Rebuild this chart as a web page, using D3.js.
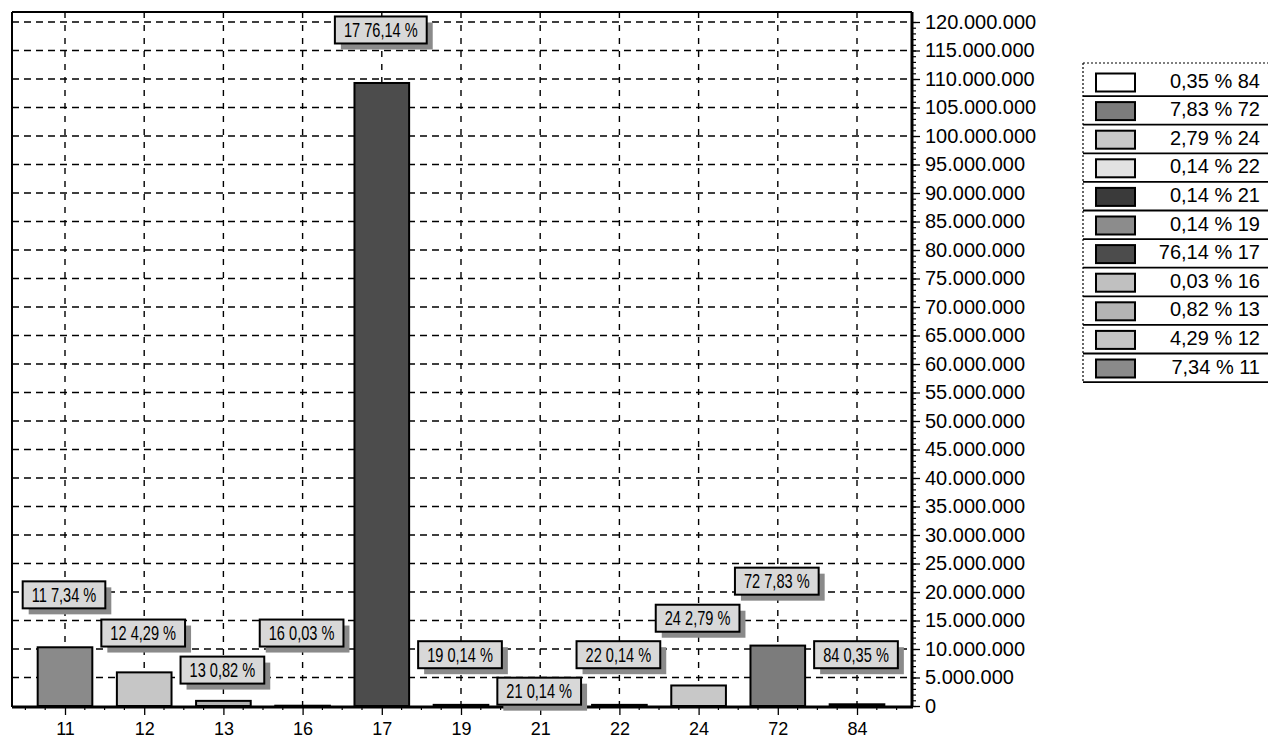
<!DOCTYPE html>
<html>
<head>
<meta charset="utf-8">
<script src="https://cdn.jsdelivr.net/npm/d3@7"></script>
<style>
  body { margin: 0; background: #fff; }
  text { font-family: "Liberation Sans", Arial, sans-serif; }
</style>
</head>
<body>
<svg width="1268" height="744"></svg>
<script>
// data
var categories = ["11", "12", "13", "16", "17", "19", "21", "22", "24", "72", "84"];
var values = [10300000, 5900000, 900000, 50000, 109300000, 200000, 200000, 200000, 3600000, 10600000, 300000];
var percents = ["7,34", "4,29", "0,82", "0,03", "76,14", "0,14", "0,14", "0,14", "2,79", "7,83", "0,35"];
// where each value label sits (in axis units)
var labelAt = [19500000, 12800000, 6300000, 12800000, 118600000, 9000000, 2600000, 9000000, 15400000, 21900000, 9000000];
var fills = ["#8a8a8a", "#c6c6c6", "#b4b4b4", "#c0c0c0", "#4c4c4c", "#8c8c8c", "#3a3a3a", "#e2e2e2", "#c8c8c8", "#7c7c7c", "#ffffff"];
var yTicks = d3.range(0, 120000001, 5000000);

var svg = d3.select("svg"),
    plot = { left: 12, right: 912, top: 12, bottom: 706 };

var fmt = d3.formatLocale({ decimal: ",", thousands: ".", grouping: [3], currency: ["", ""] }).format(",");

var x = d3.scalePoint()
    .domain(categories)
    .range([65, 857]);

var y = d3.scaleLinear()
    .domain([0, 120000000])
    .range([plot.bottom, 22]);

var barW = x.step() * 0.69;

// grid
svg.append("g")
    .selectAll("line")
    .data(yTicks.slice(1))
    .enter().append("line")
    .attr("x1", plot.left).attr("x2", plot.right)
    .attr("y1", function (d) { return y(d); })
    .attr("y2", function (d) { return y(d); })
    .attr("stroke", "#000")
    .attr("stroke-width", 1.4)
    .attr("stroke-dasharray", "7,5");

svg.append("g")
    .selectAll("line")
    .data(categories)
    .enter().append("line")
    .attr("x1", function (d) { return x(d); })
    .attr("x2", function (d) { return x(d); })
    .attr("y1", plot.top).attr("y2", plot.bottom)
    .attr("stroke", "#000")
    .attr("stroke-width", 1.4)
    .attr("stroke-dasharray", "6,7");

// frame top / left
svg.append("line")
    .attr("x1", plot.left).attr("x2", plot.right)
    .attr("y1", plot.top).attr("y2", plot.top)
    .attr("stroke", "#000").attr("stroke-width", 2);
svg.append("line")
    .attr("x1", plot.left).attr("x2", plot.left)
    .attr("y1", plot.top).attr("y2", plot.bottom + 1)
    .attr("stroke", "#000").attr("stroke-width", 2);

// bars
svg.append("g")
    .selectAll("rect")
    .data(categories)
    .enter().append("rect")
    .attr("x", function (d) { return x(d) - barW / 2; })
    .attr("y", function (d, i) { return y(values[i]); })
    .attr("width", barW)
    .attr("height", function (d, i) { return y(0) - y(values[i]); })
    .attr("fill", function (d, i) { return fills[i]; })
    .attr("stroke", "#000")
    .attr("stroke-width", 2);

// minor ticks on y axis
svg.append("g")
    .attr("transform", "translate(" + plot.right + ",0)")
    .call(d3.axisRight(y).tickValues(d3.range(0, 120000001, 1000000)).tickSize(4).tickFormat(""))
    .call(function (g) { g.select(".domain").remove(); })
    .selectAll("line").attr("stroke-width", 1.2);

// y axis on the right
svg.append("g")
    .attr("transform", "translate(" + plot.right + ",0)")
    .call(d3.axisRight(y).tickValues(yTicks).tickSize(8).tickPadding(5).tickFormat(fmt))
    .call(function (g) {
        g.select(".domain").attr("stroke-width", 3)
            .attr("d", "M0," + plot.top + "V" + (plot.bottom + 1));
        g.selectAll("line").attr("stroke-width", 1.3);
        g.selectAll("text").attr("font-size", 20).attr("fill", "#000")
            .attr("font-family", "Liberation Sans, Arial, sans-serif");
    });

// minor ticks on x axis
var minor = [];
categories.forEach(function (c) {
    [-0.5, -0.25, 0.25].forEach(function (f) { minor.push(x(c) + f * x.step()); });
});
minor.push(x(categories[categories.length - 1]) + 0.5 * x.step());
svg.append("g")
    .selectAll("line")
    .data(minor)
    .enter().append("line")
    .attr("x1", function (d) { return d; }).attr("x2", function (d) { return d; })
    .attr("y1", plot.bottom).attr("y2", plot.bottom + 4)
    .attr("stroke", "#000").attr("stroke-width", 1.2);

// x axis
svg.append("g")
    .attr("transform", "translate(0," + (plot.bottom + 1) + ")")
    .call(d3.axisBottom(x).tickSize(8).tickPadding(7))
    .call(function (g) {
        g.select(".domain").attr("stroke-width", 3)
            .attr("d", "M" + plot.left + ",0H" + (plot.right + 1));
        g.selectAll("line").attr("stroke-width", 1.3);
        g.selectAll("text").attr("font-size", 18).attr("fill", "#000")
            .attr("font-family", "Liberation Sans, Arial, sans-serif");
    });

// value labels with shadow
var lab = svg.append("g")
    .selectAll("g")
    .data(categories)
    .enter().append("g")
    .attr("transform", function (d, i) { return "translate(" + (x(d) - 1) + "," + y(labelAt[i]) + ")"; });

lab.each(function (d, i) {
    var g = d3.select(this);
    var shadow = g.append("rect").attr("fill", "#8a8a8a");
    var box = g.append("rect").attr("fill", "#d8d8d8").attr("stroke", "#000").attr("stroke-width", 2);
    var t = g.append("text")
        .attr("text-anchor", "middle")
        .attr("dy", "0.36em")
        .attr("font-size", 20)
        .attr("transform", "scale(0.73,1)")
        .text(d + " " + percents[i] + " %");
    var w = t.node().getComputedTextLength() * 0.73 + 18, h = 27;
    box.attr("x", -w / 2).attr("y", -h / 2).attr("width", w).attr("height", h);
    shadow.attr("x", -w / 2 + 6).attr("y", -h / 2 + 6).attr("width", w).attr("height", h);
});

// legend
var lg = { left: 1083, top: 63, rowTop: 67.5, rowH: 28.6, right: 1268 };
var order = categories.map(function (d, i) { return i; }).reverse();

svg.append("line")
    .attr("x1", lg.left).attr("x2", lg.right)
    .attr("y1", lg.top).attr("y2", lg.top)
    .attr("stroke", "#000").attr("stroke-width", 1.2).attr("stroke-dasharray", "2,2");
svg.append("line")
    .attr("x1", lg.left).attr("x2", lg.left)
    .attr("y1", lg.top).attr("y2", lg.rowTop + order.length * lg.rowH)
    .attr("stroke", "#000").attr("stroke-width", 1.2).attr("stroke-dasharray", "2,2");

var row = svg.append("g")
    .selectAll("g")
    .data(order)
    .enter().append("g")
    .attr("transform", function (d, k) { return "translate(0," + (lg.rowTop + k * lg.rowH) + ")"; });

row.append("rect")
    .attr("x", 1096).attr("y", 6)
    .attr("width", 39).attr("height", 18)
    .attr("fill", function (i) { return fills[i]; })
    .attr("stroke", "#000").attr("stroke-width", 2);

row.append("text")
    .attr("x", 1260).attr("y", 20)
    .attr("text-anchor", "end")
    .attr("font-size", 20)
    .text(function (i) { return percents[i] + " % " + categories[i]; });

row.append("line")
    .attr("x1", lg.left).attr("x2", lg.right)
    .attr("y1", lg.rowH).attr("y2", lg.rowH)
    .attr("stroke", "#000").attr("stroke-width", 1.8);
</script>
</body>
</html>
